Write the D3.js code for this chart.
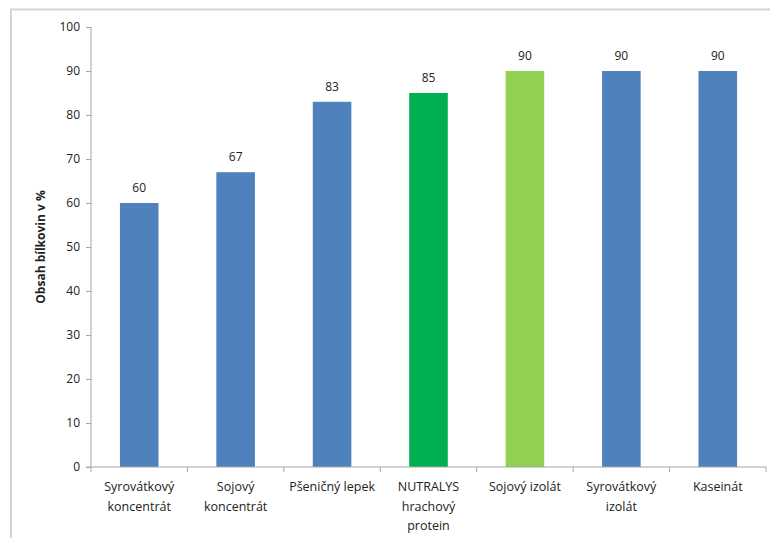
<!DOCTYPE html>
<html><head><meta charset="utf-8">
<script src="https://cdn.jsdelivr.net/npm/d3@7"></script>
<style>body{margin:0;background:#fff;} svg{display:block;}</style>
</head><body>
<svg id="c" width="770" height="538"></svg>
<script>
const categories = [
  ["Syrovátkový","koncentrát"],
  ["Sojový","koncentrát"],
  ["Pšeničný lepek"],
  ["NUTRALYS","hrachový","protein"],
  ["Sojový izolát"],
  ["Syrovátkový","izolát"],
  ["Kaseinát"]
];
const values = [60, 67, 83, 85, 90, 90, 90];
const barColors = ["#4F81BD","#4F81BD","#4F81BD","#00B050","#92D050","#4F81BD","#4F81BD"];
const yTicks = [0,10,20,30,40,50,60,70,80,90,100];
const yTitle = "Obsah bílkovin v %";

const svg = d3.select("#c");
const font = "'Open Sans', 'Liberation Sans', sans-serif";
const L = 91, R = 766, T = 27, B = 467;

// frame
svg.append("rect").attr("x",11).attr("y",9.5).attr("width",800).attr("height",600)
  .attr("fill","none").attr("stroke","#d4d4d4").attr("stroke-width",2);

const x = d3.scaleBand().domain(d3.range(categories.length)).range([L,R]).paddingInner(0.6).paddingOuter(0.3);
const xb = d3.scaleBand().domain(d3.range(categories.length)).range([L,R]);
const y = d3.scaleLinear().domain([0,100]).range([B,T]);

// y axis
const ya = svg.append("g").attr("transform",`translate(${L},0)`)
  .call(d3.axisLeft(y).tickValues(yTicks).tickSize(5).tickPadding(6));
ya.select(".domain").attr("stroke","#a6a6a6").attr("d",`M0,${T}V${B}`);
ya.selectAll(".tick line").attr("stroke","#a6a6a6");
ya.selectAll("text").attr("font-family",font).attr("font-size",12).attr("fill","#222");

// bars
svg.append("g").selectAll("rect").data(values).join("rect")
  .attr("x",(d,i)=>x(i)).attr("width",x.bandwidth())
  .attr("y",d=>y(d)).attr("height",d=>y(0)-y(d))
  .attr("fill",(d,i)=>barColors[i]);

// x axis
const xa = svg.append("g");
xa.append("line").attr("x1",L-5).attr("x2",R).attr("y1",B).attr("y2",B).attr("stroke","#a6a6a6");
xa.selectAll("line.t").data(d3.range(categories.length+1)).join("line").attr("class","t")
  .attr("x1",i=>L+i*xb.step()).attr("x2",i=>L+i*xb.step())
  .attr("y1",B).attr("y2",B+5).attr("stroke","#a6a6a6");

// category labels
const cl = svg.append("g").selectAll("text").data(categories).join("text")
  .attr("x",(d,i)=>xb(i)+xb.bandwidth()/2).attr("y",491)
  .attr("text-anchor","middle").attr("font-family",font).attr("font-size",12.5).attr("fill","#222");
cl.selectAll("tspan").data(d=>d).join("tspan")
  .attr("x",function(){return this.parentNode.getAttribute("x");})
  .attr("dy",(d,i)=>i===0?0:19.5).text(d=>d);

// value labels
svg.append("g").selectAll("text").data(values).join("text")
  .attr("x",(d,i)=>x(i)+x.bandwidth()/2).attr("y",d=>y(d)-11)
  .attr("text-anchor","middle").attr("font-family",font).attr("font-size",12).attr("fill","#222")
  .text(d=>d);

// y title
svg.append("text").attr("transform",`translate(45,247) rotate(-90)`)
  .attr("text-anchor","middle").attr("font-family",font).attr("font-size",12).attr("font-weight","bold")
  .attr("fill","#222").text(yTitle);
</script>
</body></html>
